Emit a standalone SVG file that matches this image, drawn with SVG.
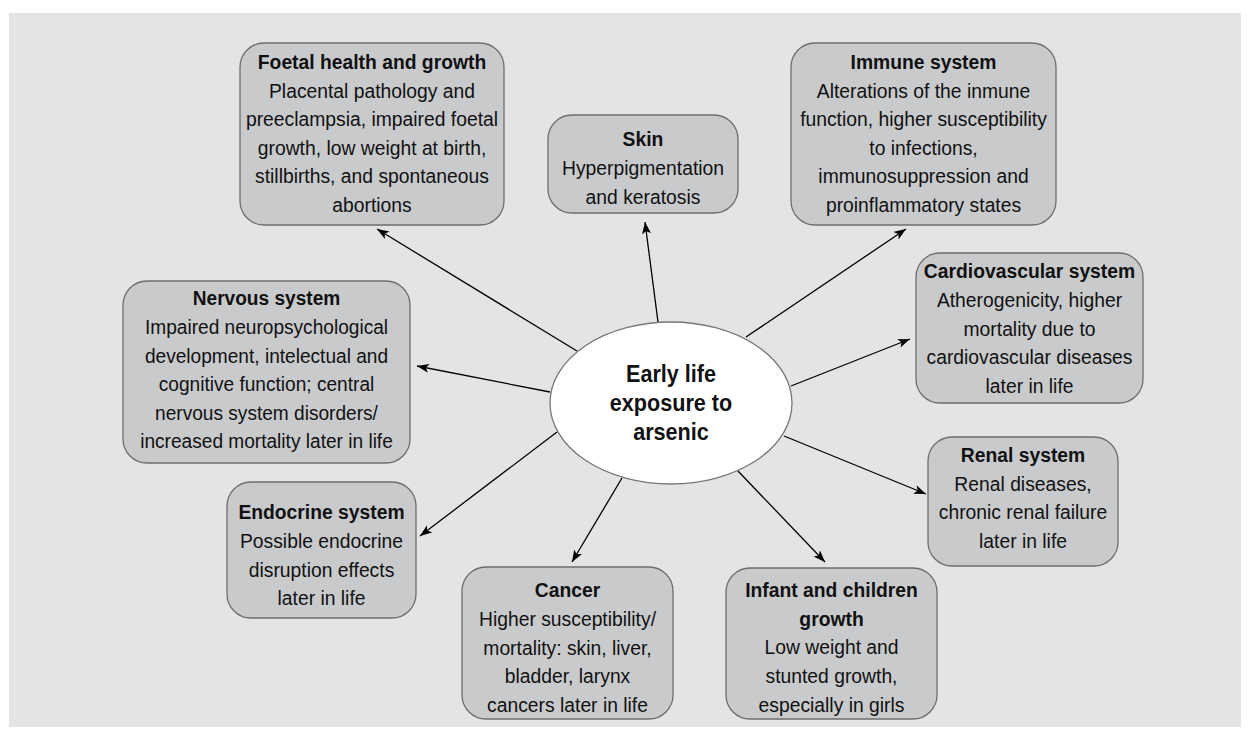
<svg xmlns="http://www.w3.org/2000/svg" width="1250" height="741" viewBox="0 0 1250 741">
<style>
.box{fill:#c9cacc;stroke:#6e6e6e;stroke-width:1.3}
.t{font-family:"Liberation Sans",Arial,sans-serif;font-size:21px;fill:#111;text-anchor:middle}
.b{font-weight:bold}
.c{font-family:"Liberation Sans",Arial,sans-serif;font-size:24px;font-weight:bold;fill:#111;text-anchor:middle}
.ln{stroke:#000;stroke-width:1.3;fill:none;marker-end:url(#ah)}
</style>
<defs>
<marker id="ah" markerUnits="userSpaceOnUse" markerWidth="14" markerHeight="10" refX="12" refY="4.5" orient="auto">
<path d="M0,0 L12,4.5 L0,9 L3,4.5 z" fill="#000"/>
</marker>
</defs>
<rect x="0" y="0" width="1250" height="741" fill="#ffffff"/>
<rect x="9" y="13" width="1232" height="714" fill="#e3e5e4"/>
<g id="connectors">
<line class="ln" x1="577" y1="351" x2="377" y2="229"/>
<line class="ln" x1="658" y1="322" x2="645" y2="222"/>
<line class="ln" x1="746" y1="337" x2="906" y2="229"/>
<line class="ln" x1="791" y1="386" x2="910" y2="339"/>
<line class="ln" x1="784" y1="436" x2="926" y2="494"/>
<line class="ln" x1="738" y1="471" x2="825" y2="562"/>
<line class="ln" x1="622" y1="478" x2="572" y2="562"/>
<line class="ln" x1="557" y1="432" x2="420" y2="536"/>
<line class="ln" x1="550" y1="392" x2="417" y2="366"/>
</g>
<g id="center">
<ellipse cx="671" cy="403" rx="121" ry="81" fill="#fff" stroke="#777" stroke-width="1.3"/>
<text class="c" transform="translate(671,0) scale(0.9,1)"><tspan x="0" y="382">Early life</tspan><tspan x="0" y="411">exposure to</tspan><tspan x="0" y="440">arsenic</tspan></text>
</g>
<g id="foetal">
<rect class="box" x="240" y="43" width="264" height="182" rx="24"/>
<text class="t" transform="translate(372,0) scale(0.92,1)"><tspan class="b" x="0" y="69">Foetal health and growth</tspan><tspan x="0" y="97.6">Placental pathology and</tspan><tspan x="0" y="126.2">preeclampsia, impaired foetal</tspan><tspan x="0" y="154.8">growth, low weight at birth,</tspan><tspan x="0" y="183.4">stillbirths, and spontaneous</tspan><tspan x="0" y="212">abortions</tspan></text>
</g>
<g id="skin">
<rect class="box" x="548" y="115" width="190" height="98" rx="24"/>
<text class="t" transform="translate(643,0) scale(0.92,1)"><tspan class="b" x="0" y="146">Skin</tspan><tspan x="0" y="175">Hyperpigmentation</tspan><tspan x="0" y="204">and keratosis</tspan></text>
</g>
<g id="immune">
<rect class="box" x="791" y="43" width="265" height="182" rx="24"/>
<text class="t" transform="translate(923.5,0) scale(0.92,1)"><tspan class="b" x="0" y="69">Immune system</tspan><tspan x="0" y="97.6">Alterations of the inmune</tspan><tspan x="0" y="126.2">function, higher susceptibility</tspan><tspan x="0" y="154.8">to infections,</tspan><tspan x="0" y="183.4">immunosuppression and</tspan><tspan x="0" y="212">proinflammatory states</tspan></text>
</g>
<g id="cardiovascular">
<rect class="box" x="916" y="253" width="227" height="150" rx="24"/>
<text class="t" transform="translate(1029.5,0) scale(0.92,1)"><tspan class="b" x="0" y="278">Cardiovascular system</tspan><tspan x="0" y="307">Atherogenicity, higher</tspan><tspan x="0" y="336">mortality due to</tspan><tspan x="0" y="364">cardiovascular diseases</tspan><tspan x="0" y="393">later in life</tspan></text>
</g>
<g id="nervous">
<rect class="box" x="123" y="281" width="287" height="182" rx="24"/>
<text class="t" transform="translate(266.5,0) scale(0.91,1)"><tspan class="b" x="0" y="305.5">Nervous system</tspan><tspan x="0" y="334">Impaired neuropsychological</tspan><tspan x="0" y="362.7">development, intelectual and</tspan><tspan x="0" y="391.3">cognitive function; central</tspan><tspan x="0" y="419.9">nervous system disorders/</tspan><tspan x="0" y="448.5">increased mortality later in life</tspan></text>
</g>
<g id="endocrine">
<rect class="box" x="227" y="482" width="189" height="136" rx="24"/>
<text class="t" transform="translate(321.5,0) scale(0.92,1)"><tspan class="b" x="0" y="519">Endocrine system</tspan><tspan x="0" y="548">Possible endocrine</tspan><tspan x="0" y="577">disruption effects</tspan><tspan x="0" y="605">later in life</tspan></text>
</g>
<g id="renal">
<rect class="box" x="928" y="437" width="190" height="129" rx="24"/>
<text class="t" transform="translate(1023,0) scale(0.92,1)"><tspan class="b" x="0" y="462">Renal system</tspan><tspan x="0" y="491">Renal diseases,</tspan><tspan x="0" y="519.5">chronic renal failure</tspan><tspan x="0" y="548">later in life</tspan></text>
</g>
<g id="cancer">
<rect class="box" x="462" y="567" width="211" height="152" rx="24"/>
<text class="t" transform="translate(567.5,0) scale(0.92,1)"><tspan class="b" x="0" y="597">Cancer</tspan><tspan x="0" y="626">Higher susceptibility/</tspan><tspan x="0" y="655">mortality: skin, liver,</tspan><tspan x="0" y="683.5">bladder, larynx</tspan><tspan x="0" y="712">cancers later in life</tspan></text>
</g>
<g id="infant">
<rect class="box" x="726" y="568" width="211" height="151" rx="24"/>
<text class="t" transform="translate(831.5,0) scale(0.92,1)"><tspan class="b" x="0" y="597">Infant and children</tspan><tspan class="b" x="0" y="626">growth</tspan><tspan x="0" y="654.5">Low weight and</tspan><tspan x="0" y="683">stunted growth,</tspan><tspan x="0" y="712">especially in girls</tspan></text>
</g>
</svg>
